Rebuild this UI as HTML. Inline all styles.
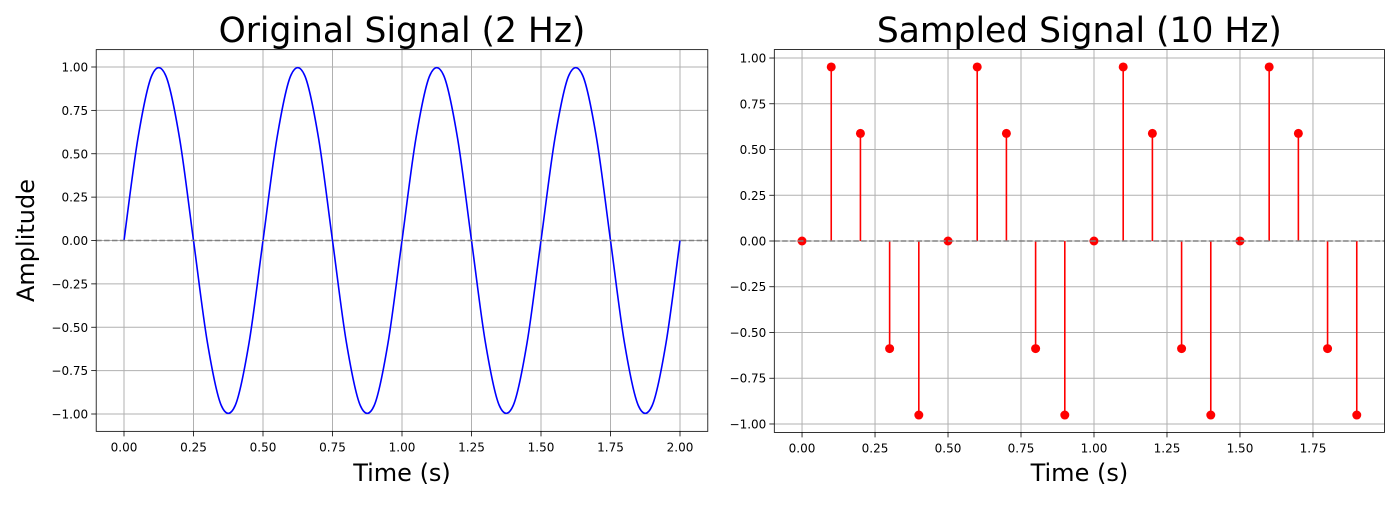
<!DOCTYPE html>
<html><head><meta charset="utf-8"><style>
body{margin:0;background:#fff}
svg text{font-family:"DejaVu Sans","Liberation Sans",sans-serif;fill:#000}
</style></head><body>
<svg id="fig" width="1400" height="500" xmlns="http://www.w3.org/2000/svg"></svg>
<script>
// Original signal samples (t step 0.05 s)
const origT = [0,0.05,0.1,0.15,0.2,0.25,0.3,0.35,0.4,0.45,0.5,0.55,0.6,0.65,0.7,0.75,0.8,0.85,0.9,0.95,1.0,1.05,1.1,1.15,1.2,1.25,1.3,1.35,1.4,1.45,1.5,1.55,1.6,1.65,1.7,1.75,1.8,1.85,1.9,1.95,2.0];
const origV = [0,0.588,0.951,0.951,0.588,0,-0.588,-0.951,-0.951,-0.588,0,0.588,0.951,0.951,0.588,0,-0.588,-0.951,-0.951,-0.588,0,0.588,0.951,0.951,0.588,0,-0.588,-0.951,-0.951,-0.588,0,0.588,0.951,0.951,0.588,0,-0.588,-0.951,-0.951,-0.588,0];
// Sampled signal (10 Hz)
const sampT = [0,0.1,0.2,0.3,0.4,0.5,0.6,0.7,0.8,0.9,1.0,1.1,1.2,1.3,1.4,1.5,1.6,1.7,1.8,1.9];
const sampV = [0,0.951,0.588,-0.588,-0.951,0,0.951,0.588,-0.588,-0.951,0,0.951,0.588,-0.588,-0.951,0,0.951,0.588,-0.588,-0.951];
const leftXTicks = ["0.00","0.25","0.50","0.75","1.00","1.25","1.50","1.75","2.00"];
const leftYTicks = ["-1.00","-0.75","-0.50","-0.25","0.00","0.25","0.50","0.75","1.00"];
const rightXTicks = ["0.00","0.25","0.50","0.75","1.00","1.25","1.50","1.75"];
const rightYTicks = ["-1.00","-0.75","-0.50","-0.25","0.00","0.25","0.50","0.75","1.00"];

const NS="http://www.w3.org/2000/svg";
const svg=document.getElementById('fig');
function mk(tag,attrs,parent){const e=document.createElementNS(NS,tag);for(const k in attrs)e.setAttribute(k,attrs[k]);(parent||svg).appendChild(e);return e;}

function panel(p){
  const g=mk('g',{});
  
  
  const sx=v=>p.x0+(v-p.xmin)/(p.xmax-p.xmin)*(p.x1-p.x0);
  const sy=v=>p.y1-(v-p.ymin)/(p.ymax-p.ymin)*(p.y1-p.y0);
  p.xt.forEach(s=>{const v=parseFloat(s),x=sx(v);
    const l=mk('line',{x1:x,x2:x,y1:p.y0,y2:p.y1,stroke:'#b0b0b0','stroke-width':1},g);
    
    mk('line',{x1:x,x2:x,y1:p.y1,y2:p.y1+5,stroke:'#000','stroke-width':0.8},g);
    const t=mk('text',{x:x,y:p.y1+20,'text-anchor':'middle','font-size':'12px'},g);t.textContent=s;
    });
  p.yt.forEach(s=>{const v=parseFloat(s),y=sy(v);
    const l=mk('line',{x1:p.x0,x2:p.x1,y1:y,y2:y,stroke:'#b0b0b0','stroke-width':1},g);
    
    mk('line',{x1:p.x0-5,x2:p.x0,y1:y,y2:y,stroke:'#000','stroke-width':0.8},g);
    const t=mk('text',{x:p.x0-8,y:y+4.5,'text-anchor':'end','font-size':'12px'},g);t.textContent=s.replace('-','\u2212');
    });
  p.draw(g,sx,sy);
  const z=mk('line',{x1:p.x0,x2:p.x1,y1:sy(0),y2:sy(0),stroke:'#808080','stroke-width':1.5,'stroke-dasharray':'5.5,2.4'},g);
  
  const r=mk('rect',{x:p.x0,y:p.y0,width:p.x1-p.x0,height:p.y1-p.y0,fill:'none',stroke:'#000','stroke-width':0.8},g);
  
  const ti=mk('text',{x:(p.x0+p.x1)/2,y:42,'text-anchor':'middle','font-size':'34.5px'},g);ti.textContent=p.title;
  
  const xl=mk('text',{x:(p.x0+p.x1)/2,y:481,'text-anchor':'middle','font-size':'24px'},g);xl.textContent='Time (s)';
  
  if(p.ylabel){const yl=mk('text',{x:0,y:0,'text-anchor':'middle','font-size':'24px',transform:`translate(34,${(p.y0+p.y1)/2}) rotate(-90)`},g);yl.textContent=p.ylabel;
    }
}

panel({name:'original-signal-chart',x0:96.2,x1:707.8,y0:49.65,y1:431.35,xmin:-0.1,xmax:2.1,ymin:-1.1,ymax:1.1,
  xt:leftXTicks,yt:leftYTicks,title:'Original Signal (2 Hz)',ylabel:'Amplitude',
  draw:(g,sx,sy)=>{
    const P=origT.map((t,i)=>[sx(t),sy(origV[i])]);
    let d=`M${P[0][0]},${P[0][1]}`;
    for(let i=0;i<P.length-1;i++){const p0=P[Math.max(i-1,0)],p1=P[i],p2=P[i+1],p3=P[Math.min(i+2,P.length-1)];
      d+=` C${p1[0]+(p2[0]-p0[0])/6},${p1[1]+(p2[1]-p0[1])/6} ${p2[0]-(p3[0]-p1[0])/6},${p2[1]-(p3[1]-p1[1])/6} ${p2[0]},${p2[1]}`;}
    const l=mk('path',{d:d,fill:'none',stroke:'#0000ff','stroke-width':1.6},g);
    
  }});

panel({name:'sampled-signal-chart',x0:774.3,x1:1384.5,y0:49.6,y1:432.4,xmin:-0.095,xmax:1.995,ymin:-1.046,ymax:1.046,
  xt:rightXTicks,yt:rightYTicks,title:'Sampled Signal (10 Hz)',
  draw:(g,sx,sy)=>{
    sampT.forEach((t,i)=>{const x=sx(t);
      const s=mk('line',{x1:x,x2:x,y1:sy(0),y2:sy(sampV[i]),stroke:'#ff0000','stroke-width':1.6},g);
      });
    sampT.forEach((t,i)=>{
      const c=mk('circle',{cx:sx(t),cy:sy(sampV[i]),r:4.5,fill:'#ff0000'},g);
      });
  }});
</script>
</body></html>
